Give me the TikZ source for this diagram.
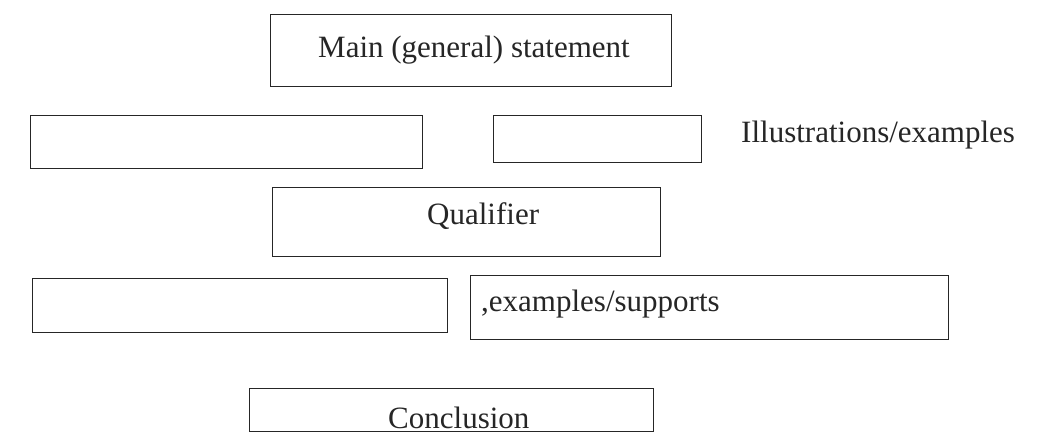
\documentclass[tikz,border=0pt]{standalone}
\usepackage{fontspec}
\setmainfont{Liberation Serif}
\begin{document}
\begin{tikzpicture}[x=1pt,y=-1pt,
  box/.style={draw=black!85,line width=1.4pt,inner sep=0pt,anchor=north west},
  lbl/.style={inner sep=0pt,anchor=base west,font=\fontsize{31}{36}\selectfont,text=black!85}]
\useasboundingbox (0,0) rectangle (1041,434);
\fill[white] (0,0) rectangle (1041,434);
% boxes
\node[box,minimum width=401pt,minimum height=72pt] (main) at (270,14) {};
\node[box,minimum width=392pt,minimum height=53pt] (l2) at (30,115) {};
\node[box,minimum width=208pt,minimum height=47pt] (r2) at (493,115) {};
\node[box,minimum width=388pt,minimum height=69pt] (qual) at (272,187) {};
\node[box,minimum width=415pt,minimum height=54pt] (l4) at (32,278) {};
\node[box,minimum width=478pt,minimum height=64pt] (r4) at (470,275) {};
\node[box,minimum width=404pt,minimum height=43pt] (conc) at (249,388) {};
% texts
\node[lbl] (tmain) at (318,57) {Main (general) statement};
\node[lbl] (till) at (741,142) {Illustrations/examples};
\node[lbl] (tqual) at (427,224) {Qualifier};
\node[lbl] (tex) at (481,311) {,examples/supports};
\node[lbl] (tconc) at (388,428) {Conclusion};
\end{tikzpicture}
\end{document}
